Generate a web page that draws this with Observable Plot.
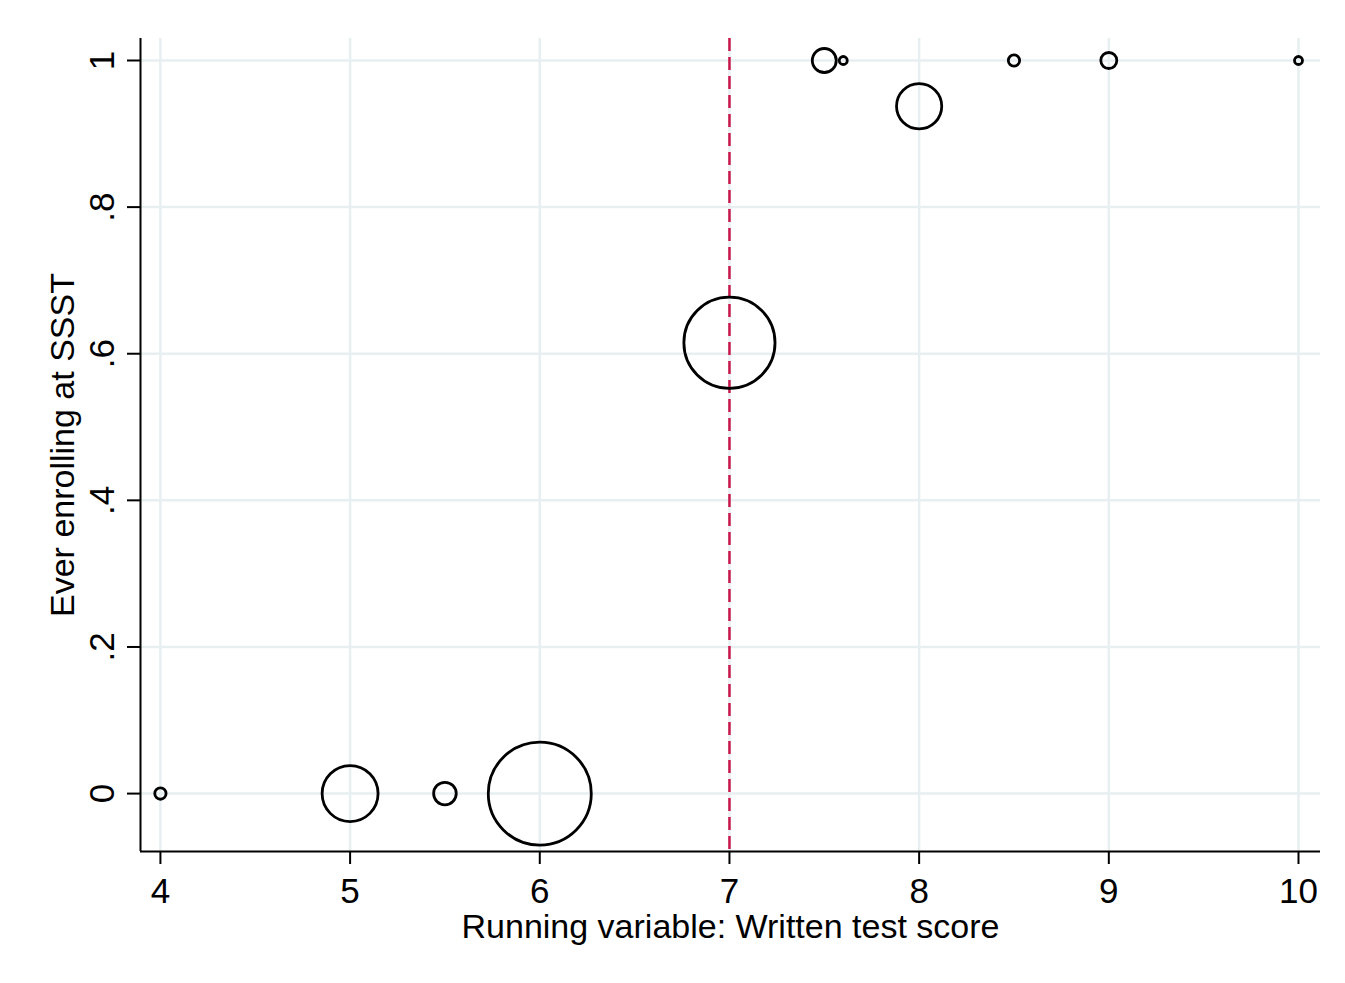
<!DOCTYPE html>
<html>
<head>
<meta charset="utf-8">
<script src="https://cdn.jsdelivr.net/npm/d3@7"></script>
<script src="https://cdn.jsdelivr.net/npm/@observablehq/plot@0.6"></script>
<style>
  html, body { margin: 0; padding: 0; background: #ffffff; }
  #chart { width: 1345px; height: 983px; }
</style>
</head>
<body>
<div id="chart"></div>
<script>
// Data
const scores    = [4, 5, 5.5, 6, 7, 7.5, 7.6, 8, 8.5, 9, 10];
const enrolled  = [0, 0, 0, 0, 0.615, 1, 1, 0.9375, 1, 1, 1];
const counts    = [2, 49, 8, 166, 130, 9, 1, 32, 2, 4, 1];
const xTicks    = [4, 5, 6, 7, 8, 9, 10];
const yTicks    = [0, 0.2, 0.4, 0.6, 0.8, 1];
const yTickLabels = ["0", ".2", ".4", ".6", ".8", "1"];
const cutoff    = [7];
const xTitle    = ["Running variable: Written test score"];
const yTitle    = ["Ever enrolling at SSST"];

const xDomain = [3.895, 10.116];
const yDomain = [-0.079, 1.03];

const data = scores.map((s, i) => ({score: s, enrolled: enrolled[i], n: counts[i]}));

const chart = Plot.plot({
  width: 1345,
  height: 983,
  marginLeft: 140,
  marginRight: 25,
  marginTop: 38,
  marginBottom: 132,
  style: {fontFamily: "'Liberation Sans', Arial, sans-serif", background: "#ffffff", color: "#000000"},
  x: {domain: xDomain},
  y: {domain: yDomain},
  r: {type: "sqrt", domain: [0, 166], range: [0, 51.5]},
  marks: [
    Plot.gridX(xTicks, {stroke: "#e7eff1", strokeOpacity: 1, strokeWidth: 2.5}),
    Plot.gridY(yTicks, {stroke: "#e7eff1", strokeOpacity: 1, strokeWidth: 2.5}),
    Plot.ruleX(cutoff, {stroke: "#c8174b", strokeWidth: 2.5, strokeDasharray: "13,6"}),
    Plot.dot(data, {x: "score", y: "enrolled", r: "n", stroke: "#000000", strokeWidth: 2.8, fill: "none"}),
    Plot.ruleX([xDomain[0]], {stroke: "#000000", strokeWidth: 2}),
    Plot.ruleY([yDomain[0]], {stroke: "#000000", strokeWidth: 2}),
    Plot.axisX(xTicks, {tickSize: 13, tickPadding: 14, fontSize: 35, label: null, strokeWidth: 2, tickFormat: d => String(d)}),
    Plot.axisY(yTicks, {tickSize: 13, tickPadding: 14, fontSize: 35, label: null, strokeWidth: 2, tickRotate: -90,
      tickFormat: d => yTickLabels[yTicks.indexOf(d)]}),
    Plot.text(xTitle, {text: d => d, frameAnchor: "bottom", dy: 76, fontSize: 34, lineAnchor: "middle", textAnchor: "middle", fill: "#000000"}),
    Plot.text(yTitle, {text: d => d, frameAnchor: "left", dx: -77, rotate: -90, fontSize: 34, lineAnchor: "middle", textAnchor: "middle", fill: "#000000"})
  ]
});
document.getElementById("chart").appendChild(chart);
</script>
</body>
</html>
